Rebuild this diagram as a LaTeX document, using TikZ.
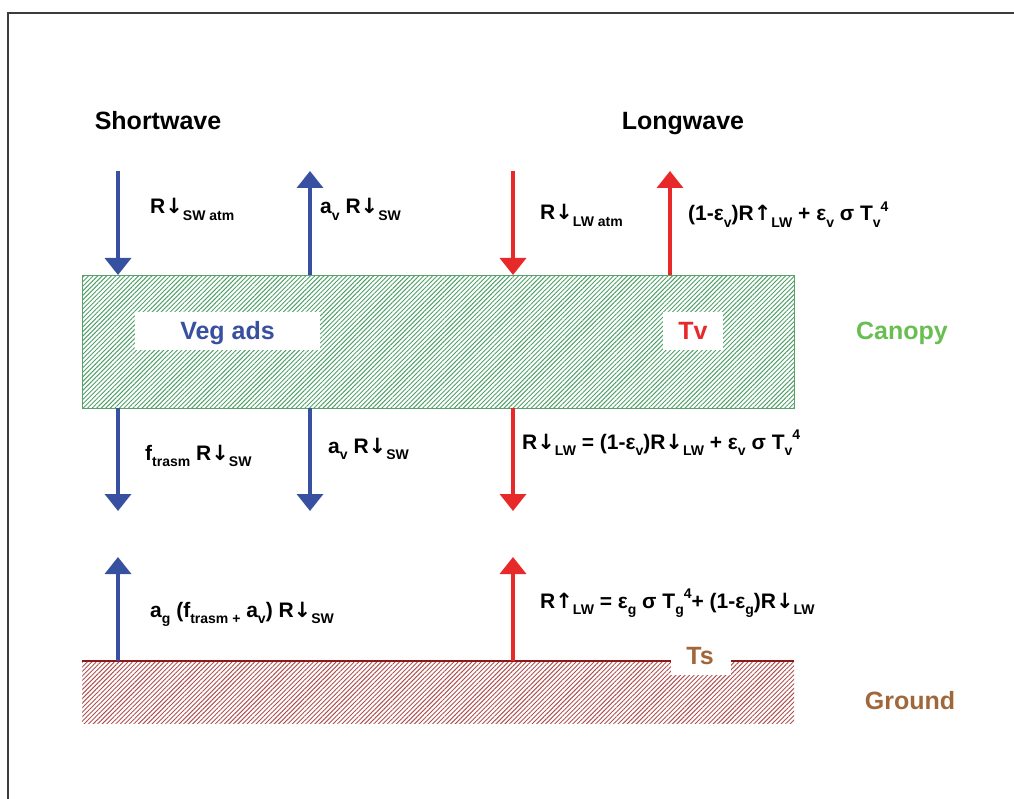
\documentclass[tikz,border=0pt]{standalone}
\usepackage{fontspec}
\setmainfont{Liberation Sans}
\newfontfamily\arrfont{DejaVu Sans}
\usetikzlibrary{arrows.meta,patterns.meta}
\definecolor{swblue}{RGB}{56,80,160}
\definecolor{lwred}{RGB}{232,41,42}
\definecolor{canopygreen}{RGB}{104,190,80}
\definecolor{hatchgreen}{RGB}{80,160,105}
\definecolor{boxgreen}{RGB}{90,160,105}
\definecolor{groundbrown}{RGB}{160,104,58}
\definecolor{hatchred}{RGB}{175,80,80}
\definecolor{groundline}{RGB}{140,25,25}
\definecolor{framegray}{RGB}{60,60,60}
\newcommand\subx[1]{\raisebox{-0.3em}{\fontsize{14}{14}\selectfont #1}}
\newcommand\supx[1]{\raisebox{0.45em}{\fontsize{14}{14}\selectfont #1}}
\newcommand\dnar{{\arrfont\bfseries ↓}}
\newcommand\upar{{\arrfont\bfseries ↑}}
\tikzset{
  flux/.style={line width=3.5pt,-{Triangle[width=26pt,length=17pt]}},
  swflux/.style={flux,draw=swblue,fill=swblue},
  lwflux/.style={flux,draw=lwred,fill=lwred},
  lab/.style={font=\bfseries\fontsize{21}{21}\selectfont,inner sep=0pt,anchor=base west},
  head/.style={font=\bfseries\fontsize{25}{25}\selectfont,inner sep=0pt},
  hatch/.style={pattern={Lines[angle=45,distance=3.2pt,line width=0.95pt]}},
}
\begin{document}
\begin{tikzpicture}[x=1pt,y=-1pt]
\useasboundingbox (0,0) rectangle (1014,799);
% frame
\draw[framegray,line width=2pt] (7.5,799) -- (7.5,13.5) -- (1014,13.5);
% headers
\node[head,anchor=base] (hsw) at (158,130) {Shortwave};
\node[head,anchor=base] (hlw) at (683,130) {Longwave};
% canopy
\node[draw=boxgreen,line width=1.2pt,hatch,pattern color=hatchgreen,
  minimum width=712pt,minimum height=133pt,inner sep=0pt,anchor=north west] (canopy) at (82,275) {};
\node[fill=white,minimum width=185pt,minimum height=38pt,inner sep=0pt] (vegbox) at (227.5,331) {};
\node[head,text=swblue,anchor=base] (veg) at (227.5,340) {Veg ads};
\node[fill=white,minimum width=60pt,minimum height=38pt,inner sep=0pt] (tvbox) at (693,331) {};
\node[head,text=lwred,anchor=base] (tv) at (693,340) {Tv};
\node[head,text=canopygreen,anchor=base] (canlab) at (902,340) {Canopy};
% ground
\node[hatch,pattern color=hatchred,
  minimum width=712pt,minimum height=62pt,inner sep=0pt,anchor=north west] (ground) at (82,661) {};
\draw[groundline,line width=2pt] (ground.north west) -- (ground.north east);
\node[fill=white,minimum width=60pt,minimum height=34pt,inner sep=0pt] (tsbox) at (701,658) {};
\node[head,text=groundbrown,anchor=base] (ts) at (700,664) {Ts};
\node[head,text=groundbrown,anchor=base] (grlab) at (910,709) {Ground};
% coordinates
\coordinate (a1s) at (118,171); \coordinate (a1e) at (118,275);
\coordinate (a2s) at (310,275); \coordinate (a2e) at (310,171);
\coordinate (a3s) at (513,171); \coordinate (a3e) at (513,275);
\coordinate (a4s) at (670,275); \coordinate (a4e) at (670,171);
\coordinate (b1s) at (118,408); \coordinate (b1e) at (118,511);
\coordinate (b2s) at (310,408); \coordinate (b2e) at (310,511);
\coordinate (b3s) at (513,408); \coordinate (b3e) at (513,511);
\coordinate (c1s) at (118,661); \coordinate (c1e) at (118,557);
\coordinate (c2s) at (513,661); \coordinate (c2e) at (513,557);
% arrows
\draw[swflux] (a1s) -- (a1e);
\draw[swflux] (a2s) -- (a2e);
\draw[lwflux] (a3s) -- (a3e);
\draw[lwflux] (a4s) -- (a4e);
\draw[swflux] (b1s) -- (b1e);
\draw[swflux] (b2s) -- (b2e);
\draw[lwflux] (b3s) -- (b3e);
\draw[swflux] (c1s) -- (c1e);
\draw[lwflux] (c2s) -- (c2e);
% labels
\node[lab] (l1) at (150,214) {R\dnar\subx{SW atm}};
\node[lab] (l2) at (320,214) {a\subx{v} R\dnar\subx{SW}};
\node[lab] (l3) at (540,220) {R\dnar\subx{LW atm}};
\node[lab] (l4) at (688,221) {(1-ε\subx{v})R\upar\subx{LW} + ε\subx{v} σ T\subx{v}\supx{4}};
\node[lab] (l5) at (145,460) {f\subx{trasm} R\dnar\subx{SW}};
\node[lab] (l6) at (328,453) {a\subx{v} R\dnar\subx{SW}};
\node[lab] (l7) at (522,449) {R\dnar\subx{LW} = (1-ε\subx{v})R\dnar\subx{LW} + ε\subx{v} σ T\subx{v}\supx{4}};
\node[lab] (l8) at (150,617) {a\subx{g} (f\subx{trasm +} a\subx{v}) R\dnar\subx{SW}};
\node[lab] (l9) at (540,608) {R\upar\subx{LW} = ε\subx{g} σ T\subx{g}\supx{4}+ (1-ε\subx{g})R\dnar\subx{LW}};
\end{tikzpicture}
\end{document}
